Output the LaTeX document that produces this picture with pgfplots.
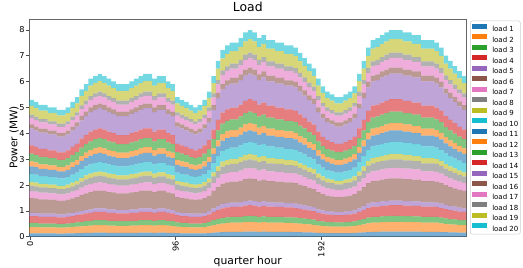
\documentclass[border=0pt]{standalone}
\usepackage{pgfplots}
\pgfplotsset{compat=1.18}
\usepackage{pgfplotstable}
\usepackage{fontspec}
\setmainfont{DejaVu Sans}
\definecolor{c1}{HTML}{1F77B4}
\definecolor{c2}{HTML}{FF7F0E}
\definecolor{c3}{HTML}{2CA02C}
\definecolor{c4}{HTML}{D62728}
\definecolor{c5}{HTML}{9467BD}
\definecolor{c6}{HTML}{8C564B}
\definecolor{c7}{HTML}{E377C2}
\definecolor{c8}{HTML}{7F7F7F}
\definecolor{c9}{HTML}{BCBD22}
\definecolor{c10}{HTML}{17BECF}
\pgfplotstableread{
x l1 l2 l3 l4 l5 l6 l7 l8 l9 l10 l11 l12 l13 l14 l15 l16 l17 l18 l19 l20
1 0.13 0.24 0.16 0.27 0.12 0.57 0.27 0.22 0.14 0.31 0.29 0.19 0.30 0.32 0.66 0.15 0.25 0.13 0.34 0.23
4 0.13 0.24 0.16 0.27 0.12 0.56 0.26 0.21 0.14 0.31 0.29 0.18 0.29 0.31 0.64 0.15 0.25 0.13 0.34 0.23
7 0.13 0.23 0.15 0.26 0.12 0.55 0.26 0.21 0.13 0.30 0.28 0.18 0.29 0.31 0.63 0.15 0.24 0.13 0.33 0.22
10 0.13 0.23 0.15 0.26 0.12 0.55 0.26 0.21 0.13 0.30 0.28 0.18 0.29 0.31 0.63 0.15 0.24 0.13 0.33 0.22
13 0.13 0.23 0.15 0.26 0.12 0.54 0.25 0.20 0.13 0.30 0.27 0.18 0.28 0.30 0.62 0.14 0.24 0.12 0.32 0.22
16 0.13 0.23 0.15 0.26 0.12 0.54 0.25 0.20 0.13 0.30 0.27 0.18 0.28 0.30 0.62 0.14 0.24 0.12 0.32 0.22
19 0.12 0.23 0.15 0.25 0.11 0.53 0.25 0.20 0.13 0.29 0.27 0.17 0.27 0.29 0.61 0.14 0.24 0.12 0.32 0.22
22 0.12 0.23 0.15 0.25 0.11 0.53 0.25 0.20 0.13 0.29 0.27 0.17 0.27 0.29 0.61 0.14 0.24 0.12 0.32 0.22
25 0.13 0.23 0.15 0.26 0.12 0.54 0.25 0.20 0.13 0.30 0.27 0.18 0.28 0.30 0.62 0.14 0.24 0.12 0.32 0.22
28 0.13 0.24 0.16 0.27 0.12 0.56 0.26 0.21 0.14 0.31 0.29 0.18 0.29 0.31 0.64 0.15 0.25 0.13 0.34 0.23
31 0.14 0.25 0.16 0.28 0.12 0.58 0.27 0.22 0.14 0.32 0.30 0.19 0.30 0.32 0.67 0.16 0.26 0.13 0.35 0.24
34 0.14 0.26 0.17 0.29 0.13 0.62 0.29 0.23 0.15 0.34 0.31 0.20 0.32 0.34 0.71 0.17 0.27 0.14 0.37 0.25
37 0.15 0.27 0.18 0.30 0.14 0.64 0.30 0.24 0.15 0.35 0.32 0.21 0.33 0.35 0.73 0.17 0.28 0.15 0.38 0.26
40 0.15 0.28 0.18 0.31 0.14 0.66 0.31 0.25 0.16 0.36 0.34 0.21 0.34 0.37 0.76 0.18 0.29 0.15 0.40 0.27
43 0.16 0.29 0.19 0.32 0.14 0.67 0.31 0.25 0.16 0.37 0.34 0.22 0.35 0.37 0.77 0.18 0.30 0.15 0.40 0.27
46 0.16 0.29 0.19 0.32 0.14 0.68 0.32 0.26 0.16 0.37 0.35 0.22 0.35 0.38 0.78 0.18 0.30 0.16 0.41 0.28
49 0.16 0.29 0.19 0.32 0.14 0.67 0.31 0.25 0.16 0.37 0.34 0.22 0.35 0.37 0.77 0.18 0.30 0.15 0.40 0.27
52 0.15 0.28 0.18 0.31 0.14 0.66 0.31 0.25 0.16 0.36 0.34 0.21 0.34 0.37 0.76 0.18 0.29 0.15 0.40 0.27
55 0.15 0.28 0.18 0.31 0.14 0.65 0.30 0.25 0.16 0.35 0.33 0.21 0.34 0.36 0.74 0.17 0.29 0.15 0.39 0.26
58 0.15 0.27 0.18 0.30 0.14 0.64 0.30 0.24 0.15 0.35 0.32 0.21 0.33 0.35 0.73 0.17 0.28 0.15 0.38 0.26
61 0.15 0.27 0.18 0.30 0.14 0.64 0.30 0.24 0.15 0.35 0.32 0.21 0.33 0.35 0.73 0.17 0.28 0.15 0.38 0.26
64 0.15 0.27 0.18 0.30 0.14 0.64 0.30 0.24 0.15 0.35 0.32 0.21 0.33 0.35 0.73 0.17 0.28 0.15 0.38 0.26
67 0.15 0.28 0.18 0.31 0.14 0.65 0.30 0.25 0.16 0.35 0.33 0.21 0.34 0.36 0.74 0.17 0.29 0.15 0.39 0.26
70 0.15 0.28 0.18 0.31 0.14 0.66 0.31 0.25 0.16 0.36 0.34 0.21 0.34 0.37 0.76 0.18 0.29 0.15 0.40 0.27
73 0.16 0.29 0.19 0.32 0.14 0.67 0.31 0.25 0.16 0.37 0.34 0.22 0.35 0.37 0.77 0.18 0.30 0.15 0.40 0.27
76 0.16 0.29 0.19 0.32 0.14 0.68 0.32 0.26 0.16 0.37 0.35 0.22 0.35 0.38 0.78 0.18 0.30 0.16 0.41 0.28
79 0.16 0.29 0.19 0.32 0.14 0.68 0.32 0.26 0.16 0.37 0.35 0.22 0.35 0.38 0.78 0.18 0.30 0.16 0.41 0.28
82 0.15 0.28 0.18 0.31 0.14 0.66 0.31 0.25 0.16 0.36 0.34 0.21 0.34 0.37 0.76 0.18 0.29 0.15 0.40 0.27
85 0.16 0.29 0.19 0.32 0.14 0.67 0.31 0.25 0.16 0.37 0.34 0.22 0.35 0.37 0.77 0.18 0.30 0.15 0.40 0.27
88 0.16 0.29 0.19 0.32 0.14 0.67 0.31 0.25 0.16 0.37 0.34 0.22 0.35 0.37 0.77 0.18 0.30 0.15 0.40 0.27
91 0.15 0.28 0.18 0.31 0.14 0.65 0.30 0.25 0.16 0.35 0.33 0.21 0.34 0.36 0.74 0.17 0.29 0.15 0.39 0.26
94 0.15 0.27 0.18 0.30 0.14 0.64 0.30 0.24 0.15 0.35 0.32 0.21 0.33 0.35 0.73 0.17 0.28 0.15 0.38 0.26
97 0.14 0.25 0.16 0.28 0.12 0.58 0.27 0.22 0.14 0.32 0.30 0.19 0.30 0.32 0.67 0.16 0.26 0.13 0.35 0.24
100 0.13 0.24 0.16 0.27 0.12 0.57 0.27 0.22 0.14 0.31 0.29 0.19 0.30 0.32 0.66 0.15 0.25 0.13 0.34 0.23
103 0.13 0.24 0.16 0.27 0.12 0.56 0.26 0.21 0.14 0.31 0.29 0.18 0.29 0.31 0.64 0.15 0.25 0.13 0.34 0.23
106 0.13 0.23 0.15 0.26 0.12 0.55 0.26 0.21 0.13 0.30 0.28 0.18 0.29 0.31 0.63 0.15 0.24 0.13 0.33 0.22
109 0.13 0.23 0.15 0.26 0.12 0.54 0.25 0.20 0.13 0.30 0.27 0.18 0.28 0.30 0.62 0.14 0.24 0.12 0.32 0.22
112 0.13 0.23 0.15 0.26 0.12 0.55 0.26 0.21 0.13 0.30 0.28 0.18 0.29 0.31 0.63 0.15 0.24 0.13 0.33 0.22
115 0.13 0.24 0.16 0.27 0.12 0.57 0.27 0.22 0.14 0.31 0.29 0.19 0.30 0.32 0.66 0.15 0.25 0.13 0.34 0.23
118 0.14 0.26 0.17 0.29 0.13 0.60 0.28 0.23 0.15 0.33 0.31 0.20 0.31 0.34 0.69 0.16 0.27 0.14 0.36 0.25
121 0.16 0.29 0.19 0.32 0.14 0.67 0.31 0.25 0.16 0.37 0.34 0.22 0.35 0.37 0.77 0.18 0.30 0.15 0.40 0.27
124 0.17 0.31 0.20 0.35 0.16 0.73 0.34 0.28 0.18 0.40 0.37 0.24 0.38 0.41 0.84 0.20 0.33 0.17 0.44 0.30
127 0.18 0.33 0.22 0.37 0.17 0.78 0.36 0.30 0.19 0.42 0.40 0.25 0.40 0.43 0.89 0.21 0.35 0.18 0.47 0.32
130 0.19 0.34 0.22 0.38 0.17 0.80 0.37 0.30 0.19 0.44 0.41 0.26 0.41 0.44 0.92 0.21 0.36 0.18 0.48 0.33
133 0.19 0.35 0.23 0.38 0.17 0.81 0.38 0.31 0.19 0.44 0.41 0.26 0.42 0.45 0.93 0.22 0.36 0.19 0.49 0.33
136 0.19 0.35 0.23 0.38 0.17 0.81 0.38 0.31 0.19 0.44 0.41 0.26 0.42 0.45 0.93 0.22 0.36 0.19 0.49 0.33
139 0.19 0.35 0.23 0.39 0.18 0.83 0.39 0.32 0.20 0.45 0.42 0.27 0.43 0.46 0.95 0.22 0.37 0.19 0.50 0.34
142 0.20 0.36 0.24 0.40 0.18 0.85 0.40 0.32 0.21 0.47 0.43 0.28 0.44 0.47 0.98 0.23 0.38 0.20 0.51 0.35
145 0.20 0.37 0.24 0.41 0.18 0.86 0.40 0.33 0.21 0.47 0.44 0.28 0.45 0.48 0.99 0.23 0.38 0.20 0.52 0.35
148 0.20 0.36 0.24 0.40 0.18 0.85 0.40 0.32 0.21 0.47 0.43 0.28 0.44 0.47 0.98 0.23 0.38 0.20 0.51 0.35
151 0.19 0.35 0.23 0.39 0.18 0.83 0.39 0.32 0.20 0.45 0.42 0.27 0.43 0.46 0.95 0.22 0.37 0.19 0.50 0.34
154 0.20 0.36 0.23 0.40 0.18 0.84 0.39 0.32 0.20 0.46 0.43 0.27 0.44 0.47 0.97 0.23 0.37 0.19 0.51 0.34
157 0.19 0.35 0.23 0.39 0.17 0.82 0.38 0.31 0.20 0.45 0.42 0.27 0.43 0.46 0.94 0.22 0.36 0.19 0.49 0.33
160 0.19 0.35 0.23 0.39 0.17 0.82 0.38 0.31 0.20 0.45 0.42 0.27 0.43 0.46 0.94 0.22 0.36 0.19 0.49 0.33
163 0.19 0.35 0.23 0.38 0.17 0.81 0.38 0.31 0.19 0.44 0.41 0.26 0.42 0.45 0.93 0.22 0.36 0.19 0.49 0.33
166 0.19 0.35 0.23 0.38 0.17 0.81 0.38 0.31 0.19 0.44 0.41 0.26 0.42 0.45 0.93 0.22 0.36 0.19 0.49 0.33
169 0.19 0.34 0.22 0.38 0.17 0.80 0.37 0.30 0.19 0.44 0.41 0.26 0.41 0.44 0.92 0.21 0.36 0.18 0.48 0.33
172 0.19 0.34 0.22 0.38 0.17 0.80 0.37 0.30 0.19 0.44 0.41 0.26 0.41 0.44 0.92 0.21 0.36 0.18 0.48 0.33
175 0.18 0.34 0.22 0.37 0.17 0.79 0.37 0.30 0.19 0.43 0.40 0.26 0.41 0.44 0.91 0.21 0.35 0.18 0.47 0.32
178 0.18 0.33 0.21 0.36 0.16 0.77 0.36 0.29 0.18 0.42 0.39 0.25 0.40 0.43 0.88 0.21 0.34 0.18 0.46 0.31
181 0.17 0.32 0.21 0.35 0.16 0.75 0.35 0.28 0.18 0.41 0.38 0.24 0.39 0.41 0.86 0.20 0.33 0.17 0.45 0.30
184 0.17 0.31 0.20 0.34 0.15 0.72 0.34 0.27 0.17 0.40 0.37 0.23 0.38 0.40 0.83 0.19 0.32 0.17 0.44 0.29
187 0.16 0.30 0.20 0.33 0.15 0.70 0.33 0.27 0.17 0.38 0.36 0.23 0.36 0.39 0.81 0.19 0.31 0.16 0.42 0.29
190 0.15 0.28 0.18 0.31 0.14 0.66 0.31 0.25 0.16 0.36 0.34 0.21 0.34 0.37 0.76 0.18 0.29 0.15 0.40 0.27
193 0.15 0.27 0.17 0.30 0.13 0.63 0.29 0.24 0.15 0.34 0.32 0.20 0.32 0.35 0.72 0.17 0.28 0.14 0.38 0.26
196 0.14 0.26 0.17 0.29 0.13 0.60 0.28 0.23 0.15 0.33 0.31 0.20 0.31 0.34 0.69 0.16 0.27 0.14 0.36 0.25
199 0.14 0.25 0.17 0.28 0.13 0.59 0.28 0.23 0.14 0.32 0.30 0.19 0.31 0.33 0.68 0.16 0.26 0.14 0.36 0.24
202 0.14 0.25 0.16 0.28 0.12 0.58 0.27 0.22 0.14 0.32 0.30 0.19 0.30 0.32 0.67 0.16 0.26 0.13 0.35 0.24
205 0.14 0.25 0.16 0.28 0.12 0.58 0.27 0.22 0.14 0.32 0.30 0.19 0.30 0.32 0.67 0.16 0.26 0.13 0.35 0.24
208 0.14 0.25 0.17 0.28 0.13 0.59 0.28 0.23 0.14 0.32 0.30 0.19 0.31 0.33 0.68 0.16 0.26 0.14 0.36 0.24
211 0.14 0.26 0.17 0.29 0.13 0.60 0.28 0.23 0.15 0.33 0.31 0.20 0.31 0.34 0.69 0.16 0.27 0.14 0.36 0.25
214 0.15 0.27 0.17 0.30 0.13 0.63 0.29 0.24 0.15 0.34 0.32 0.20 0.32 0.35 0.72 0.17 0.28 0.14 0.38 0.26
217 0.16 0.29 0.19 0.32 0.14 0.68 0.32 0.26 0.16 0.37 0.35 0.22 0.35 0.38 0.78 0.18 0.30 0.16 0.41 0.28
220 0.17 0.31 0.20 0.35 0.16 0.73 0.34 0.28 0.18 0.40 0.37 0.24 0.38 0.41 0.84 0.20 0.33 0.17 0.44 0.30
223 0.18 0.34 0.22 0.37 0.17 0.79 0.37 0.30 0.19 0.43 0.40 0.26 0.41 0.44 0.91 0.21 0.35 0.18 0.47 0.32
226 0.19 0.35 0.23 0.39 0.17 0.82 0.38 0.31 0.20 0.45 0.42 0.27 0.43 0.46 0.94 0.22 0.36 0.19 0.49 0.33
229 0.19 0.35 0.23 0.39 0.18 0.83 0.39 0.32 0.20 0.45 0.42 0.27 0.43 0.46 0.95 0.22 0.37 0.19 0.50 0.34
232 0.20 0.36 0.23 0.40 0.18 0.84 0.39 0.32 0.20 0.46 0.43 0.27 0.44 0.47 0.97 0.23 0.37 0.19 0.51 0.34
235 0.20 0.36 0.24 0.40 0.18 0.85 0.40 0.32 0.21 0.47 0.43 0.28 0.44 0.47 0.98 0.23 0.38 0.20 0.51 0.35
238 0.20 0.37 0.24 0.41 0.18 0.86 0.40 0.33 0.21 0.47 0.44 0.28 0.45 0.48 0.99 0.23 0.38 0.20 0.52 0.35
241 0.20 0.37 0.24 0.41 0.18 0.86 0.40 0.33 0.21 0.47 0.44 0.28 0.45 0.48 0.99 0.23 0.38 0.20 0.52 0.35
244 0.20 0.37 0.24 0.41 0.18 0.86 0.40 0.33 0.21 0.47 0.44 0.28 0.45 0.48 0.99 0.23 0.38 0.20 0.52 0.35
247 0.20 0.36 0.24 0.40 0.18 0.85 0.40 0.32 0.21 0.47 0.43 0.28 0.44 0.47 0.98 0.23 0.38 0.20 0.51 0.35
250 0.20 0.36 0.24 0.40 0.18 0.85 0.40 0.32 0.21 0.47 0.43 0.28 0.44 0.47 0.98 0.23 0.38 0.20 0.51 0.35
253 0.20 0.36 0.23 0.40 0.18 0.84 0.39 0.32 0.20 0.46 0.43 0.27 0.44 0.47 0.97 0.23 0.37 0.19 0.51 0.34
256 0.20 0.36 0.23 0.40 0.18 0.84 0.39 0.32 0.20 0.46 0.43 0.27 0.44 0.47 0.97 0.23 0.37 0.19 0.51 0.34
259 0.19 0.35 0.23 0.39 0.17 0.82 0.38 0.31 0.20 0.45 0.42 0.27 0.43 0.46 0.94 0.22 0.36 0.19 0.49 0.33
262 0.19 0.35 0.23 0.39 0.17 0.82 0.38 0.31 0.20 0.45 0.42 0.27 0.43 0.46 0.94 0.22 0.36 0.19 0.49 0.33
265 0.19 0.35 0.23 0.39 0.17 0.82 0.38 0.31 0.20 0.45 0.42 0.27 0.43 0.46 0.94 0.22 0.36 0.19 0.49 0.33
268 0.19 0.35 0.23 0.38 0.17 0.81 0.38 0.31 0.19 0.44 0.41 0.26 0.42 0.45 0.93 0.22 0.36 0.19 0.49 0.33
271 0.18 0.34 0.22 0.37 0.17 0.79 0.37 0.30 0.19 0.43 0.40 0.26 0.41 0.44 0.91 0.21 0.35 0.18 0.47 0.32
274 0.18 0.32 0.21 0.36 0.16 0.76 0.35 0.29 0.18 0.41 0.39 0.24 0.39 0.42 0.87 0.20 0.34 0.17 0.45 0.31
277 0.17 0.31 0.20 0.35 0.16 0.73 0.34 0.28 0.18 0.40 0.37 0.24 0.38 0.41 0.84 0.20 0.33 0.17 0.44 0.30
280 0.17 0.30 0.20 0.34 0.15 0.71 0.33 0.27 0.17 0.39 0.36 0.23 0.37 0.40 0.82 0.19 0.32 0.16 0.43 0.29
283 0.16 0.29 0.19 0.33 0.15 0.69 0.32 0.26 0.17 0.38 0.35 0.22 0.36 0.38 0.79 0.19 0.31 0.16 0.42 0.28
286 0.16 0.29 0.19 0.32 0.14 0.67 0.31 0.25 0.16 0.37 0.34 0.22 0.35 0.37 0.77 0.18 0.30 0.15 0.40 0.27
}\data
\begin{document}
\begin{tikzpicture}
\useasboundingbox (-29.3pt,-31.3pt) rectangle (493.7pt,236.7pt);
\begin{axis}[
  scale only axis, width=437pt, height=217.7pt,
  xmin=-0.5, xmax=287.5, ymin=0, ymax=8.42,
  ybar stacked, bar width=3,
  axis line style={draw=black!60, line width=0.7pt},
  tick align=outside, tick pos=left, major tick length=3pt,
  tick style={black!70, line width=0.6pt},
  xtick={0,96,192}, ytick={0,1,2,3,4,5,6,7,8},
  /pgf/number format/assume math mode=true,
  ticklabel style={font=\fontsize{8.2}{9.8}\selectfont},
  xticklabel style={rotate=90, anchor=east, inner sep=1.5pt},
  yticklabel style={inner sep=1.5pt},
  title={Load},
  title style={font=\fontsize{12.4}{14}\selectfont, at={(axis description cs:0.5,1.0069)}, anchor=base, inner sep=0pt},
  xlabel={quarter hour},
  xlabel style={font=\fontsize{10.8}{13}\selectfont, at={(axis description cs:0.5,-0.1263)}, anchor=base, inner sep=0pt},
  ylabel={Power (MW)},
  ylabel style={font=\fontsize{10.5}{13}\selectfont, at={(axis description cs:-0.0275,0.456)}, anchor=base, inner sep=0pt},
  legend image code/.code={\fill[#1, fill opacity=1, draw=none, sharp corners] (0pt,0.1pt) rectangle (14.4pt,5.1pt);},
  legend style={at={(axis description cs:1.0085,0.9922)}, anchor=north west,
    draw=black!20, rounded corners=2pt, line width=0.5pt,
    inner xsep=2pt, inner ysep=3pt,
    font=\fontsize{7}{8.4}\selectfont,
    nodes={inner sep=0pt, text height=5.2pt, text depth=0pt},
    row sep=2.8pt, column sep=5.6pt},
  legend cell align=left,
]
\addplot[draw=none, fill=c1, fill opacity=0.6] table[x=x,y=l1]{\data}; \addlegendentry{load 1}
\addplot[draw=none, fill=c2, fill opacity=0.6] table[x=x,y=l2]{\data}; \addlegendentry{load 2}
\addplot[draw=none, fill=c3, fill opacity=0.6] table[x=x,y=l3]{\data}; \addlegendentry{load 3}
\addplot[draw=none, fill=c4, fill opacity=0.6] table[x=x,y=l4]{\data}; \addlegendentry{load 4}
\addplot[draw=none, fill=c5, fill opacity=0.6] table[x=x,y=l5]{\data}; \addlegendentry{load 5}
\addplot[draw=none, fill=c6, fill opacity=0.6] table[x=x,y=l6]{\data}; \addlegendentry{load 6}
\addplot[draw=none, fill=c7, fill opacity=0.6] table[x=x,y=l7]{\data}; \addlegendentry{load 7}
\addplot[draw=none, fill=c8, fill opacity=0.6] table[x=x,y=l8]{\data}; \addlegendentry{load 8}
\addplot[draw=none, fill=c9, fill opacity=0.6] table[x=x,y=l9]{\data}; \addlegendentry{load 9}
\addplot[draw=none, fill=c10, fill opacity=0.6] table[x=x,y=l10]{\data}; \addlegendentry{load 10}
\addplot[draw=none, fill=c1, fill opacity=0.6] table[x=x,y=l11]{\data}; \addlegendentry{load 11}
\addplot[draw=none, fill=c2, fill opacity=0.6] table[x=x,y=l12]{\data}; \addlegendentry{load 12}
\addplot[draw=none, fill=c3, fill opacity=0.6] table[x=x,y=l13]{\data}; \addlegendentry{load 13}
\addplot[draw=none, fill=c4, fill opacity=0.6] table[x=x,y=l14]{\data}; \addlegendentry{load 14}
\addplot[draw=none, fill=c5, fill opacity=0.6] table[x=x,y=l15]{\data}; \addlegendentry{load 15}
\addplot[draw=none, fill=c6, fill opacity=0.6] table[x=x,y=l16]{\data}; \addlegendentry{load 16}
\addplot[draw=none, fill=c7, fill opacity=0.6] table[x=x,y=l17]{\data}; \addlegendentry{load 17}
\addplot[draw=none, fill=c8, fill opacity=0.6] table[x=x,y=l18]{\data}; \addlegendentry{load 18}
\addplot[draw=none, fill=c9, fill opacity=0.6] table[x=x,y=l19]{\data}; \addlegendentry{load 19}
\addplot[draw=none, fill=c10, fill opacity=0.6] table[x=x,y=l20]{\data}; \addlegendentry{load 20}
\end{axis}
\end{tikzpicture}
\end{document}
